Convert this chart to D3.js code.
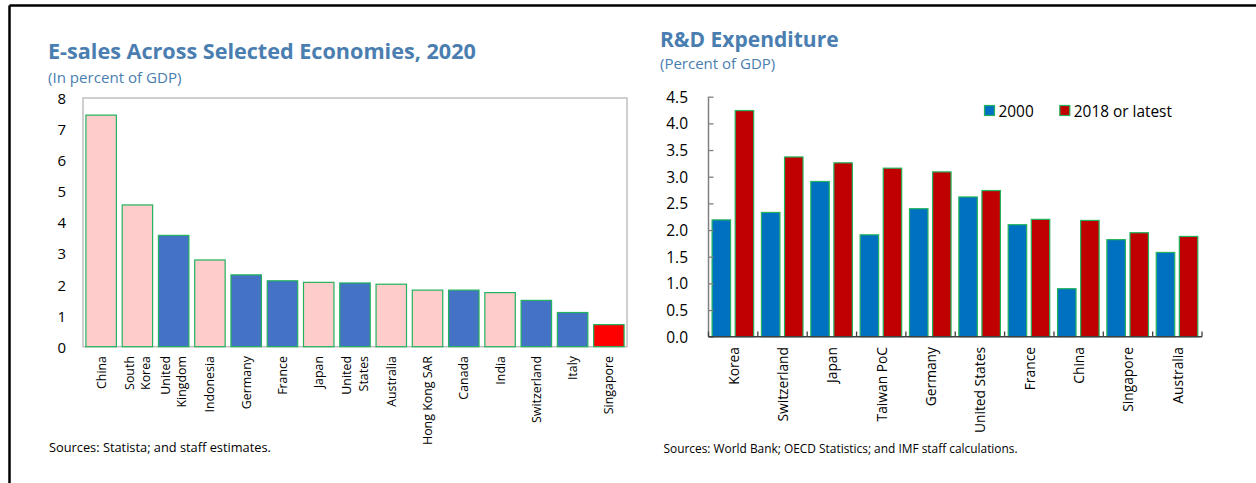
<!DOCTYPE html>
<html><head><meta charset="utf-8">
<script src="https://cdn.jsdelivr.net/npm/d3@7"></script>
<style>
body{margin:0;background:#fff;}
svg{display:block;font-family:'Open Sans',sans-serif;}
</style>
</head><body>
<svg id="c" width="1256" height="483"></svg>
<script>
// ---- Left chart data: E-sales (percent of GDP), 2020 ----
const eCategories = ["China","South Korea","United Kingdom","Indonesia","Germany","France","Japan","United States","Australia","Hong Kong SAR","Canada","India","Switzerland","Italy","Singapore"];
const eValues = [7.45,4.56,3.58,2.79,2.31,2.12,2.07,2.05,2.01,1.82,1.82,1.74,1.49,1.10,0.71];
const eGroups = ["Asia","Asia","Other","Asia","Other","Other","Asia","Other","Asia","Asia","Other","Asia","Other","Other","Singapore"];
const eYTicks = [0,1,2,3,4,5,6,7,8];
const eWrapped = ["South Korea","United Kingdom","United States"];

// ---- Right chart data: R&D expenditure (percent of GDP) ----
const rdCategories = ["Korea","Switzerland","Japan","Taiwan PoC","Germany","United States","France","China","Singapore","Australia"];
const rdSeries = ["2000","2018 or latest"];
const rd2000 = [2.19,2.33,2.91,1.91,2.40,2.62,2.10,0.90,1.82,1.58];
const rd2018 = [4.24,3.37,3.26,3.16,3.09,2.74,2.20,2.18,1.95,1.88];
const rdYTicks = [0,0.5,1,1.5,2,2.5,3,3.5,4,4.5];

const svg = d3.select("#c");
const titleColor = "#4a7eb0";
const edge = "#22b35c";

// outer frame (top and left edges)
svg.append("line").attr("x1",9.5).attr("x2",1256).attr("y1",5.5).attr("y2",5.5).attr("stroke","#000").attr("stroke-width",2.5);
svg.append("line").attr("x1",9.5).attr("x2",9.5).attr("y1",5.5).attr("y2",483).attr("stroke","#000").attr("stroke-width",2.5);

// ================= LEFT CHART =================
svg.append("text").attr("x",48).attr("y",59).attr("fill",titleColor).attr("font-weight","bold").attr("font-size",21.6).text("E-sales Across Selected Economies, 2020");
svg.append("text").attr("x",48).attr("y",83).attr("fill",titleColor).attr("font-size",15.1).text("(In percent of GDP)");

const ex = d3.scaleBand().domain(eCategories).range([83,627]).paddingInner(0.16).paddingOuter(0.08);
const ey = d3.scaleLinear().domain([0,8]).range([346.7,98]);
const eColor = d3.scaleOrdinal().domain(["Asia","Other","Singapore"]).range(["#ffcccc","#4472c4","#ff0000"]);

svg.append("rect").attr("x",83).attr("y",98).attr("width",544).attr("height",ey(0)-98)
  .attr("fill","none").attr("stroke","#c0c0c0").attr("stroke-width",1.5);

svg.append("g").selectAll("rect").data(eCategories).join("rect")
  .attr("x",d=>ex(d)).attr("width",ex.bandwidth())
  .attr("y",(d,i)=>ey(eValues[i])).attr("height",(d,i)=>ey(0)-ey(eValues[i]))
  .attr("fill",(d,i)=>eColor(eGroups[i])).attr("stroke",edge).attr("stroke-width",1.2);

svg.append("g").selectAll("text").data(eYTicks).join("text")
  .attr("x",66).attr("y",d=>ey(d)).attr("text-anchor","end").attr("dominant-baseline","central")
  .attr("font-size",15).attr("fill","#000").text(d=>d);

const exl = svg.append("g").selectAll("g").data(eCategories).join("g")
  .attr("transform",d=>`translate(${ex(d)+ex.bandwidth()/2},356) rotate(-90)`);
exl.each(function(d){
  const g = d3.select(this);
  const lines = eWrapped.includes(d) ? d.split(" ") : [d];
  const off = lines.length===1 ? [0] : [-8.2,8.2];
  lines.forEach((t,k)=>{
    g.append("text").attr("x",0).attr("y",off[k]).attr("text-anchor","end").attr("dominant-baseline","central")
      .attr("font-size",12.4).attr("fill","#000").text(t);
  });
});

svg.append("text").attr("x",49).attr("y",452).attr("font-size",12.8).attr("fill","#000").text("Sources: Statista; and staff estimates.");

// ================= RIGHT CHART =================
svg.append("text").attr("x",660).attr("y",47).attr("fill",titleColor).attr("font-weight","bold").attr("font-size",21).text("R&D Expenditure");
svg.append("text").attr("x",660).attr("y",68.5).attr("fill",titleColor).attr("font-size",15).text("(Percent of GDP)");

const rx = d3.scaleBand().domain(rdCategories).range([708.5,1202]).padding(0);
const rxi = d3.scaleBand().domain(rdSeries).range([3.6, rx.bandwidth()-4.2]).paddingInner(0.2);
const ry = d3.scaleLinear().domain([0,4.5]).range([336.7,96.7]);
const rColor = d3.scaleOrdinal().domain(rdSeries).range(["#0070c0","#c00000"]);
const rdVals = [rd2000, rd2018];

const grp = svg.append("g").selectAll("g").data(rdCategories).join("g")
  .attr("transform",d=>`translate(${rx(d)},0)`);
grp.selectAll("rect").data((d,i)=>rdSeries.map((s,k)=>({s,v:rdVals[k][i]}))).join("rect")
  .attr("x",d=>rxi(d.s)).attr("width",rxi.bandwidth())
  .attr("y",d=>ry(d.v)).attr("height",d=>ry(0)-ry(d.v))
  .attr("fill",d=>rColor(d.s)).attr("stroke",edge).attr("stroke-width",1.2);

// y axis
const yAxis = d3.axisRight(ry).tickValues(rdYTicks).tickSize(5).tickFormat("");
const yg = svg.append("g").attr("transform","translate(708.5,0)").call(yAxis);
yg.select(".domain").attr("stroke","#808080").attr("stroke-width",1.5).attr("d","M0,96.7V336.7");
yg.selectAll(".tick line").attr("stroke","#808080").attr("stroke-width",1.3);
svg.append("g").selectAll("text").data(rdYTicks).join("text")
  .attr("x",688).attr("y",d=>ry(d)).attr("text-anchor","end").attr("dominant-baseline","central")
  .attr("font-size",15.5).attr("fill","#000").text(d3.format(".1f"));

// x axis with ticks at group boundaries (pointing up)
const bounds = rdCategories.map(d=>rx(d)).concat([rx.range()[1]]);
svg.append("line").attr("x1",708.5).attr("x2",1202).attr("y1",336.7).attr("y2",336.7).attr("stroke","#404040").attr("stroke-width",1.5);
svg.append("g").selectAll("line").data(bounds).join("line")
  .attr("x1",d=>d).attr("x2",d=>d).attr("y1",336.7).attr("y2",331.5).attr("stroke","#404040").attr("stroke-width",1.3);

svg.append("g").selectAll("text").data(rdCategories).join("text")
  .attr("transform",d=>`translate(${rx(d)+rx.bandwidth()/2},347) rotate(-90)`)
  .attr("text-anchor","end").attr("dominant-baseline","central")
  .attr("font-size",13.8).attr("fill","#000").text(d=>d);

// legend
const lg = svg.append("g").selectAll("g").data(rdSeries).join("g")
  .attr("transform",(d,i)=>`translate(${[984.5,1059.8][i]},105.5)`);
lg.append("rect").attr("width",10).attr("height",10).attr("fill",d=>rColor(d)).attr("stroke",edge).attr("stroke-width",1.2);
lg.append("text").attr("x",14).attr("y",5.5).attr("dominant-baseline","central").attr("font-size",15.4).attr("fill","#000").text(d=>d);

svg.append("text").attr("x",663.5).attr("y",453).attr("font-size",11.9).attr("fill","#000").text("Sources: World Bank; OECD Statistics; and IMF staff calculations.");
</script>
</body></html>
